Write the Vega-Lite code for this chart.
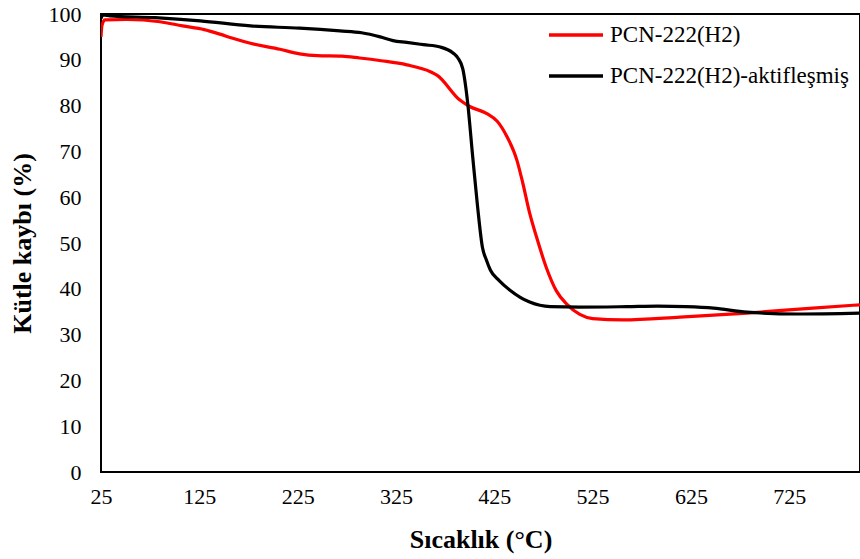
{
  "$schema": "https://vega.github.io/schema/vega-lite/v6.json",
  "autosize": {"type": "none"},
  "padding": {"left": 101, "top": 14, "right": 0, "bottom": 87},
  "width": 759,
  "height": 458,
  "background": "white",
  "config": {
    "font": "Liberation Serif",
    "view": {"stroke": "black", "strokeWidth": 2},
    "axis": {"grid": false, "ticks": false, "domain": false, "labelColor": "black", "titleColor": "black", "labelFont": "Liberation Serif", "titleFont": "Liberation Serif"}
  },
  "data": {"values": [
    {"t": 25, "m": 95.0, "s": "PCN-222(H2)"},
    {"t": 26, "m": 97.5, "s": "PCN-222(H2)"},
    {"t": 29, "m": 98.7, "s": "PCN-222(H2)"},
    {"t": 51, "m": 98.8, "s": "PCN-222(H2)"},
    {"t": 85, "m": 98.3, "s": "PCN-222(H2)"},
    {"t": 108, "m": 97.4, "s": "PCN-222(H2)"},
    {"t": 130, "m": 96.6, "s": "PCN-222(H2)"},
    {"t": 146, "m": 95.6, "s": "PCN-222(H2)"},
    {"t": 159, "m": 94.7, "s": "PCN-222(H2)"},
    {"t": 177, "m": 93.6, "s": "PCN-222(H2)"},
    {"t": 207, "m": 92.3, "s": "PCN-222(H2)"},
    {"t": 227, "m": 91.3, "s": "PCN-222(H2)"},
    {"t": 245, "m": 90.9, "s": "PCN-222(H2)"},
    {"t": 270, "m": 90.8, "s": "PCN-222(H2)"},
    {"t": 288, "m": 90.4, "s": "PCN-222(H2)"},
    {"t": 310, "m": 89.8, "s": "PCN-222(H2)"},
    {"t": 336, "m": 88.9, "s": "PCN-222(H2)"},
    {"t": 360, "m": 87.4, "s": "PCN-222(H2)"},
    {"t": 367, "m": 86.6, "s": "PCN-222(H2)"},
    {"t": 390, "m": 81.2, "s": "PCN-222(H2)"},
    {"t": 400, "m": 79.8, "s": "PCN-222(H2)"},
    {"t": 418, "m": 78.2, "s": "PCN-222(H2)"},
    {"t": 428, "m": 76.6, "s": "PCN-222(H2)"},
    {"t": 438, "m": 73.2, "s": "PCN-222(H2)"},
    {"t": 448, "m": 68.1, "s": "PCN-222(H2)"},
    {"t": 454, "m": 63.1, "s": "PCN-222(H2)"},
    {"t": 461, "m": 56.5, "s": "PCN-222(H2)"},
    {"t": 468, "m": 51.3, "s": "PCN-222(H2)"},
    {"t": 478, "m": 44.6, "s": "PCN-222(H2)"},
    {"t": 488, "m": 39.6, "s": "PCN-222(H2)"},
    {"t": 499, "m": 36.6, "s": "PCN-222(H2)"},
    {"t": 512, "m": 34.4, "s": "PCN-222(H2)"},
    {"t": 525, "m": 33.5, "s": "PCN-222(H2)"},
    {"t": 556, "m": 33.2, "s": "PCN-222(H2)"},
    {"t": 614, "m": 33.8, "s": "PCN-222(H2)"},
    {"t": 682, "m": 34.7, "s": "PCN-222(H2)"},
    {"t": 749, "m": 35.8, "s": "PCN-222(H2)"},
    {"t": 797, "m": 36.5, "s": "PCN-222(H2)"},
    {"t": 25, "m": 99.0, "s": "PCN-222(H2)-aktifleşmiş"},
    {"t": 27, "m": 99.8, "s": "PCN-222(H2)-aktifleşmiş"},
    {"t": 34, "m": 99.6, "s": "PCN-222(H2)-aktifleşmiş"},
    {"t": 80, "m": 99.2, "s": "PCN-222(H2)-aktifleşmiş"},
    {"t": 126, "m": 98.5, "s": "PCN-222(H2)-aktifleşmiş"},
    {"t": 177, "m": 97.4, "s": "PCN-222(H2)-aktifleşmiş"},
    {"t": 227, "m": 96.9, "s": "PCN-222(H2)-aktifleşmiş"},
    {"t": 268, "m": 96.3, "s": "PCN-222(H2)-aktifleşmiş"},
    {"t": 290, "m": 95.9, "s": "PCN-222(H2)-aktifleşmiş"},
    {"t": 309, "m": 95.0, "s": "PCN-222(H2)-aktifleşmiş"},
    {"t": 322, "m": 94.2, "s": "PCN-222(H2)-aktifleşmiş"},
    {"t": 336, "m": 93.8, "s": "PCN-222(H2)-aktifleşmiş"},
    {"t": 353, "m": 93.3, "s": "PCN-222(H2)-aktifleşmiş"},
    {"t": 370, "m": 92.8, "s": "PCN-222(H2)-aktifleşmiş"},
    {"t": 383, "m": 91.5, "s": "PCN-222(H2)-aktifleşmiş"},
    {"t": 388, "m": 90.4, "s": "PCN-222(H2)-aktifleşmiş"},
    {"t": 393, "m": 88.0, "s": "PCN-222(H2)-aktifleşmiş"},
    {"t": 398, "m": 80.5, "s": "PCN-222(H2)-aktifleşmiş"},
    {"t": 403, "m": 69.0, "s": "PCN-222(H2)-aktifleşmiş"},
    {"t": 408, "m": 58.0, "s": "PCN-222(H2)-aktifleşmiş"},
    {"t": 413, "m": 49.0, "s": "PCN-222(H2)-aktifleşmiş"},
    {"t": 417, "m": 46.3, "s": "PCN-222(H2)-aktifleşmiş"},
    {"t": 421, "m": 44.1, "s": "PCN-222(H2)-aktifleşmiş"},
    {"t": 430, "m": 41.8, "s": "PCN-222(H2)-aktifleşmiş"},
    {"t": 441, "m": 39.7, "s": "PCN-222(H2)-aktifleşmiş"},
    {"t": 461, "m": 37.1, "s": "PCN-222(H2)-aktifleşmiş"},
    {"t": 482, "m": 36.1, "s": "PCN-222(H2)-aktifleşmiş"},
    {"t": 512, "m": 36.0, "s": "PCN-222(H2)-aktifleşmiş"},
    {"t": 560, "m": 36.1, "s": "PCN-222(H2)-aktifleşmiş"},
    {"t": 591, "m": 36.2, "s": "PCN-222(H2)-aktifleşmiş"},
    {"t": 620, "m": 36.1, "s": "PCN-222(H2)-aktifleşmiş"},
    {"t": 648, "m": 35.8, "s": "PCN-222(H2)-aktifleşmiş"},
    {"t": 682, "m": 34.9, "s": "PCN-222(H2)-aktifleşmiş"},
    {"t": 733, "m": 34.5, "s": "PCN-222(H2)-aktifleşmiş"},
    {"t": 797, "m": 34.7, "s": "PCN-222(H2)-aktifleşmiş"}
  ]},
  "mark": {"type": "line", "interpolate": "monotone", "strokeWidth": 3.2, "clip": true},
  "encoding": {
    "x": {
      "field": "t", "type": "quantitative",
      "scale": {"domain": [25, 797], "nice": false, "zero": false},
      "axis": {"values": [25, 125, 225, 325, 425, 525, 625, 725], "title": "Sıcaklık (°C)", "labelFontSize": 22, "labelPadding": 14, "titleFontSize": 26, "titleFontWeight": "bold", "titlePadding": 19, "labelFlush": false}
    },
    "y": {
      "field": "m", "type": "quantitative",
      "scale": {"domain": [0, 100], "nice": false},
      "axis": {"values": [0, 10, 20, 30, 40, 50, 60, 70, 80, 90, 100], "title": "Kütle kaybı (%)", "labelFontSize": 22, "labelPadding": 20, "titleFontSize": 26, "titleFontWeight": "bold", "titlePadding": 13}
    },
    "color": {
      "field": "s", "type": "nominal",
      "scale": {"domain": ["PCN-222(H2)", "PCN-222(H2)-aktifleşmiş"], "range": ["#ff0000", "#000000"]},
      "legend": {"title": null, "orient": "none", "legendX": 446, "legendY": -8, "symbolType": "stroke", "symbolSize": 2916, "symbolStrokeWidth": 3.5, "labelFontSize": 23, "labelFont": "Liberation Serif", "labelColor": "black", "labelOffset": 5, "labelLimit": 400, "rowPadding": -10}
    }
  }
}
